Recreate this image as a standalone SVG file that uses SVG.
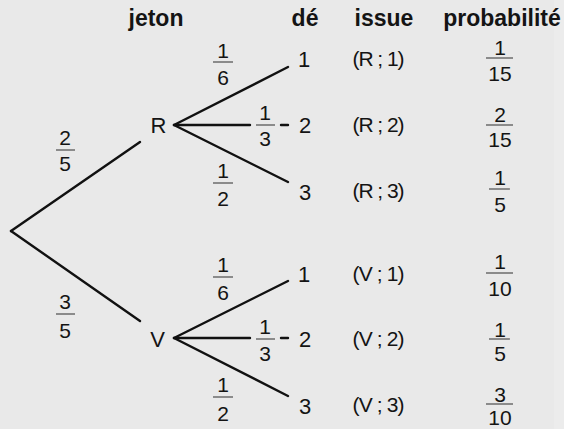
<svg xmlns="http://www.w3.org/2000/svg" width="564" height="429" viewBox="0 0 564 429">
<style>
text{font-family:"Liberation Sans",Arial,sans-serif;fill:#141414;}
.h{font-size:23px;font-weight:bold;text-anchor:middle;}
.n{font-size:22px;text-anchor:middle;}
.f{font-size:21px;text-anchor:middle;}
.iss{font-size:21px;text-anchor:middle;}
.e{stroke:#111;stroke-width:2.4;fill:none;stroke-linecap:round;}
.bar{stroke:#7a7a7a;stroke-width:1.7;}
</style>
<rect width="564" height="429" fill="#e9e9e9"/>
<rect x="554" y="0" width="10" height="429" fill="#ececec"/>

<g id="headers">
<text class="h" x="156" y="26">jeton</text>
<text class="h" x="305" y="26">dé</text>
<text class="h" x="384" y="26">issue</text>
<text class="h" x="502" y="26">probabilité</text>
</g>

<g id="connectors">
<line class="e" x1="11" y1="231" x2="140" y2="142"/>
<line class="e" x1="11" y1="231" x2="140" y2="321"/>
<line class="e" x1="174" y1="125" x2="288" y2="67"/>
<line class="e" x1="174" y1="125" x2="250" y2="125"/>
<line class="e" x1="281" y1="125" x2="288" y2="125"/>
<line class="e" x1="174" y1="125" x2="288" y2="182"/>
<line class="e" x1="174" y1="338" x2="288" y2="281"/>
<line class="e" x1="174" y1="338" x2="250" y2="338"/>
<line class="e" x1="281" y1="338" x2="288" y2="338"/>
<line class="e" x1="174" y1="338" x2="288" y2="396"/>
</g>

<g id="edge-labels">
<g><text class="f" x="65" y="145">2</text><line class="bar" x1="56" y1="150" x2="75" y2="150"/><text class="f" x="65" y="171">5</text></g>
<g><text class="f" x="65" y="309">3</text><line class="bar" x1="56" y1="314" x2="75" y2="314"/><text class="f" x="65" y="338">5</text></g>
<g><text class="f" x="223" y="58">1</text><line class="bar" x1="213" y1="62" x2="233" y2="62"/><text class="f" x="223" y="85">6</text></g>
<g><text class="f" x="265" y="120">1</text><line class="bar" x1="256" y1="125" x2="275" y2="125"/><text class="f" x="265" y="146">3</text></g>
<g><text class="f" x="223" y="178">1</text><line class="bar" x1="213" y1="183" x2="233" y2="183"/><text class="f" x="223" y="206">2</text></g>
<g><text class="f" x="223" y="272">1</text><line class="bar" x1="213" y1="277" x2="233" y2="277"/><text class="f" x="223" y="300">6</text></g>
<g><text class="f" x="265" y="334">1</text><line class="bar" x1="256" y1="339" x2="275" y2="339"/><text class="f" x="265" y="361">3</text></g>
<g><text class="f" x="223" y="392">1</text><line class="bar" x1="213" y1="397" x2="233" y2="397"/><text class="f" x="223" y="421">2</text></g>
</g>

<g id="node-root"></g>
<g id="node-R"><text class="n" x="158.5" y="133">R</text></g>
<g id="node-V"><text class="n" x="157.5" y="347">V</text></g>
<g id="node-R1"><text class="n" x="304" y="67">1</text></g>
<g id="node-R2"><text class="n" x="305" y="133">2</text></g>
<g id="node-R3"><text class="n" x="305" y="200">3</text></g>
<g id="node-V1"><text class="n" x="304" y="282">1</text></g>
<g id="node-V2"><text class="n" x="305" y="347">2</text></g>
<g id="node-V3"><text class="n" x="305" y="414">3</text></g>

<g id="issues">
<text class="iss" x="378.5" y="66" textLength="52" lengthAdjust="spacing">(R ; 1)</text>
<text class="iss" x="378.5" y="132" textLength="52" lengthAdjust="spacing">(R ; 2)</text>
<text class="iss" x="378.5" y="198" textLength="52" lengthAdjust="spacing">(R ; 3)</text>
<text class="iss" x="378.5" y="281" textLength="52" lengthAdjust="spacing">(V ; 1)</text>
<text class="iss" x="378.5" y="346" textLength="52" lengthAdjust="spacing">(V ; 2)</text>
<text class="iss" x="378.5" y="412" textLength="52" lengthAdjust="spacing">(V ; 3)</text>
</g>

<g id="probabilities">
<g><text class="f" x="500" y="55">1</text><line class="bar" x1="486" y1="58" x2="513" y2="58"/><text class="f" x="500" y="81">15</text></g>
<g><text class="f" x="500" y="122">2</text><line class="bar" x1="486" y1="125" x2="513" y2="125"/><text class="f" x="500" y="147">15</text></g>
<g><text class="f" x="500" y="185">1</text><line class="bar" x1="489" y1="189" x2="510" y2="189"/><text class="f" x="500" y="212">5</text></g>
<g><text class="f" x="500" y="269">1</text><line class="bar" x1="486" y1="273" x2="513" y2="273"/><text class="f" x="500" y="296">10</text></g>
<g><text class="f" x="500" y="337">1</text><line class="bar" x1="489" y1="339" x2="510" y2="339"/><text class="f" x="500" y="361">5</text></g>
<g><text class="f" x="500" y="402">3</text><line class="bar" x1="486" y1="404" x2="513" y2="404"/><text class="f" x="500" y="425">10</text></g>
</g>
</svg>
